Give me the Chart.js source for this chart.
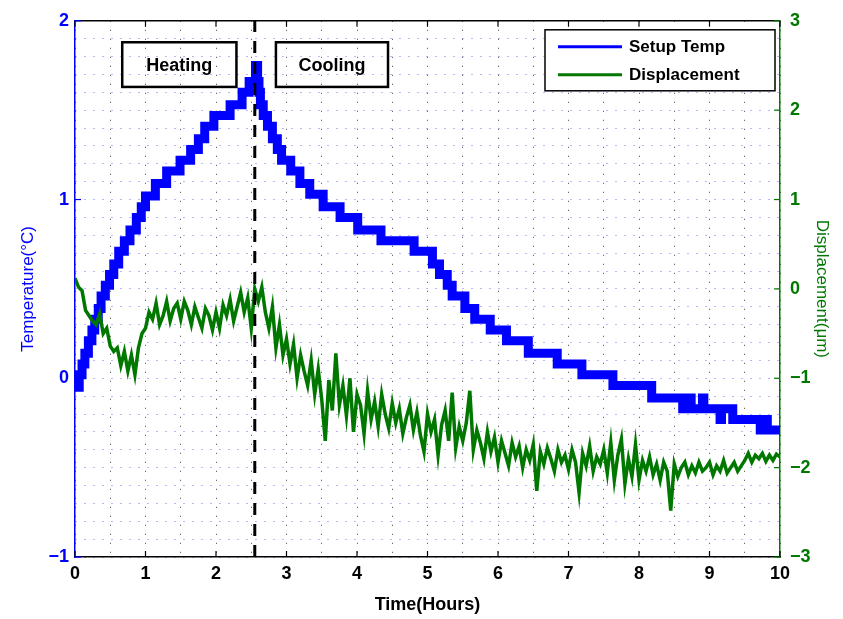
<!DOCTYPE html>
<html>
<head>
<meta charset="utf-8">
<script src="https://cdn.jsdelivr.net/npm/chart.js@4.4.1/dist/chart.umd.min.js"></script>
<style>
    html, body { margin: 0; padding: 0; background: #fff; }
    #wrap { width: 843px; height: 619px; }
</style>
</head>
<body>
<div id="wrap"><canvas id="chart" width="843" height="619"></canvas></div>
<script>
// Setup temperature: stepped readings (hours, °C)
const tempTimes = [0, 0.06, 0.10, 0.14, 0.19, 0.24, 0.28, 0.33, 0.37, 0.43,
    0.49, 0.55, 0.62, 0.70, 0.78, 0.87, 0.94, 1.00, 1.14, 1.30,
    1.49, 1.64, 1.75, 1.84, 1.97, 2.20, 2.37, 2.47, 2.56, 2.59,
    2.61, 2.63, 2.67, 2.73, 2.80, 2.87, 2.93, 3.06, 3.19, 3.33,
    3.52, 3.76, 4.01, 4.34, 4.81, 5.07, 5.17, 5.28, 5.35, 5.53,
    5.67, 5.89, 6.12, 6.43, 6.84, 7.19, 7.63, 8.18, 8.62, 8.72,
    8.74, 8.90, 8.92, 9.15, 9.17, 9.33, 9.72, 9.80, 9.82, 10.0];
const tempLevels = [-0.05, 0.02, 0.08, 0.14, 0.21, 0.27, 0.33, 0.39, 0.46, 0.52,
    0.58, 0.64, 0.71, 0.77, 0.83, 0.90, 0.96, 1.02, 1.09, 1.16,
    1.22, 1.28, 1.34, 1.41, 1.47, 1.53, 1.60, 1.66, 1.75, 1.66,
    1.60, 1.53, 1.47, 1.41, 1.34, 1.28, 1.22, 1.16, 1.09, 1.03,
    0.96, 0.90, 0.83, 0.77, 0.71, 0.64, 0.58, 0.52, 0.46, 0.39,
    0.33, 0.27, 0.21, 0.14, 0.08, 0.02, -0.04, -0.11, -0.17, -0.11,
    -0.17, -0.11, -0.17, -0.23, -0.17, -0.23, -0.29, -0.23, -0.29, -0.29];

// Displacement (µm), one sample every 0.05 h from 0 to 10 h
const dispStep = 0.05;
const dispValues = [
    0.12, 0.02, -0.02, -0.24, -0.30, -0.36, -0.40, -0.28, -0.50, -0.44,
    -0.64, -0.70, -0.66, -0.86, -0.70, -0.92, -0.74, -0.96, -0.66, -0.50,
    -0.44, -0.26, -0.34, -0.16, -0.40, -0.30, -0.14, -0.36, -0.22, -0.16,
    -0.34, -0.14, -0.24, -0.40, -0.20, -0.32, -0.44, -0.22, -0.30, -0.46,
    -0.26, -0.44, -0.18, -0.30, -0.12, -0.36, -0.20, -0.04, -0.26, -0.10,
    -0.44, 0.00, -0.14, 0.02, -0.26, -0.44, -0.20, -0.66, -0.40, -0.74,
    -0.56, -0.84, -0.62, -1.00, -0.74, -0.92, -1.08, -0.80, -1.18, -0.90,
    -1.24, -1.70, -1.02, -1.36, -0.72, -1.30, -1.08, -1.42, -1.00, -1.60,
    -1.18, -1.30, -1.62, -1.14, -1.46, -1.26, -1.54, -1.18, -1.40, -1.56,
    -1.28, -1.50, -1.34, -1.62, -1.44, -1.30, -1.58, -1.38, -1.64, -1.82,
    -1.40, -1.60, -1.46, -1.86, -1.52, -1.36, -1.70, -1.16, -1.78, -1.54,
    -1.70, -1.50, -1.14, -1.80, -1.58, -1.72, -1.90, -1.60, -1.82, -1.66,
    -1.94, -1.70, -1.84, -1.98, -1.72, -1.88, -1.76, -2.00, -1.80, -1.92,
    -1.74, -2.26, -1.82, -1.96, -1.78, -1.90, -2.04, -1.80, -1.94, -1.86,
    -2.02, -1.80, -1.94, -2.28, -1.84, -1.98, -1.76, -2.04, -1.88, -1.96,
    -1.80, -2.06, -1.72, -2.14, -1.86, -1.68, -2.18, -1.90, -2.10, -1.74,
    -2.14, -1.92, -2.04, -1.88, -2.08, -1.96, -2.14, -1.94, -2.04, -2.48,
    -1.96, -2.10, -2.00, -1.94, -2.08, -1.98, -2.06, -1.94, -2.04, -2.00,
    -1.94, -2.08, -1.98, -2.04, -1.92, -2.06, -2.00, -1.94, -2.04, -1.98,
    -1.92, -1.84, -1.94, -1.86, -1.90, -1.84, -1.93, -1.86, -1.92, -1.85,
    -1.88];

const cutTime = 2.55;   // heating / cooling boundary
const seriesNames = ['Setup Temp', 'Displacement'];
const seriesColors = ['#0000ff', '#007800'];

// text boxes in data units (hours, °C)
const notes = [
    { text: 'Heating', x0: 0.67, x1: 2.29, y0: 1.63, y1: 1.88 },
    { text: 'Cooling', x0: 2.85, x1: 4.44, y0: 1.63, y1: 1.88 }
];

const FONT = "'Liberation Sans', Arial, sans-serif";
Chart.defaults.font.family = FONT;

const isWhole = v => Math.abs(v - Math.round(v)) < 1e-6;
const fmt = v => {
    const r = Math.round(v);
    return r < 0 ? '\u2212' + Math.abs(r) : String(r);
};

const extras = {
    id: 'extras',
    afterDatasetsDraw(chart) {
        const { ctx, chartArea: a, scales } = chart;
        const x = scales.x, yT = scales.yT, yD = scales.yD;
        ctx.save();

        // top frame
        ctx.strokeStyle = '#000';
        ctx.lineWidth = 1.5;
        ctx.beginPath();
        ctx.moveTo(a.left, a.top);
        ctx.lineTo(a.right, a.top);
        ctx.stroke();

        // tick marks
        ctx.lineWidth = 1.2;
        for (let h = 0; h <= 10; h++) {
            const px = x.getPixelForValue(h);
            ctx.beginPath();
            ctx.moveTo(px, a.bottom); ctx.lineTo(px, a.bottom - 6);
            ctx.moveTo(px, a.top); ctx.lineTo(px, a.top + 6);
            ctx.stroke();
        }
        ctx.strokeStyle = seriesColors[0];
        for (let t = -1; t <= 2; t++) {
            const py = yT.getPixelForValue(t);
            ctx.beginPath(); ctx.moveTo(a.left, py); ctx.lineTo(a.left + 6, py); ctx.stroke();
        }
        ctx.strokeStyle = seriesColors[1];
        for (let d = -3; d <= 3; d++) {
            const py = yD.getPixelForValue(d);
            ctx.beginPath(); ctx.moveTo(a.right, py); ctx.lineTo(a.right - 6, py); ctx.stroke();
        }

        // heating / cooling boxes
        ctx.font = 'bold 18px ' + FONT;
        ctx.textAlign = 'center';
        ctx.textBaseline = 'middle';
        notes.forEach(n => {
            const l = x.getPixelForValue(n.x0), r = x.getPixelForValue(n.x1);
            const t = yT.getPixelForValue(n.y1), b = yT.getPixelForValue(n.y0);
            ctx.strokeStyle = '#000';
            ctx.lineWidth = 2.5;
            ctx.strokeRect(l, t, r - l, b - t);
            ctx.fillStyle = '#000';
            ctx.fillText(n.text, (l + r) / 2, (t + b) / 2 + 1);
        });

        // legend
        const lw = 230, lh = 61;
        const lx = a.right - 5 - lw, ly = a.top + 9;
        ctx.fillStyle = '#fff';
        ctx.fillRect(lx, ly, lw, lh);
        ctx.strokeStyle = '#000';
        ctx.lineWidth = 1.5;
        ctx.strokeRect(lx, ly, lw, lh);
        ctx.font = 'bold 17px ' + FONT;
        ctx.textAlign = 'left';
        seriesNames.forEach((name, i) => {
            const cy = ly + 17 + i * 28;
            ctx.strokeStyle = seriesColors[i];
            ctx.lineWidth = 3;
            ctx.beginPath();
            ctx.moveTo(lx + 13, cy); ctx.lineTo(lx + 77, cy);
            ctx.stroke();
            ctx.fillStyle = '#000';
            ctx.fillText(name, lx + 84, cy + 1);
        });
        ctx.restore();
    }
};

const tempData = tempTimes.map((t, i) => ({ x: t, y: tempLevels[i] }));
const dispData = dispValues.map((d, i) => ({ x: i * dispStep, y: d }));

new Chart(document.getElementById('chart'), {
    type: 'line',
    data: {
        datasets: [
            {
                label: seriesNames[0],
                data: tempData,
                yAxisID: 'yT',
                borderColor: seriesColors[0],
                borderWidth: 9,
                stepped: true,
                pointRadius: 0,
                order: 3
            },
            {
                label: seriesNames[1],
                data: dispData,
                yAxisID: 'yD',
                borderColor: seriesColors[1],
                borderWidth: 3.5,
                pointRadius: 0,
                tension: 0,
                order: 2
            },
            {
                label: 'cut',
                data: [{ x: cutTime, y: -1 }, { x: cutTime, y: 2 }],
                yAxisID: 'yT',
                borderColor: '#000',
                borderWidth: 3,
                borderDash: [12, 9],
                pointRadius: 0,
                order: 1
            }
        ]
    },
    options: {
        responsive: false,
        animation: false,
        layout: { padding: { top: 18, left: 0, right: 0, bottom: 0 } },
        plugins: { legend: { display: false }, tooltip: { enabled: false } },
        scales: {
            x: {
                type: 'linear',
                position: 'bottom',
                min: 0,
                max: 10,
                afterFit: s => { s.height = 62; },
                ticks: {
                    stepSize: 0.5,
                    autoSkip: false,
                    maxRotation: 0,
                    padding: 6,
                    color: '#000',
                    font: { size: 18, weight: 'bold' },
                    callback: v => isWhole(v) ? fmt(v) : ''
                },
                grid: { color: '#444', lineWidth: 1, drawTicks: false },
                border: { color: '#000', width: 1.5, dash: [1, 8] },
                title: {
                    display: true,
                    text: 'Time(Hours)',
                    color: '#000',
                    font: { size: 18, weight: 'bold' },
                    padding: { top: 0, bottom: 3 }
                }
            },
            yT: {
                type: 'linear',
                position: 'left',
                min: -1,
                max: 2,
                afterFit: s => { s.width = 75; },
                ticks: {
                    stepSize: 0.1,
                    autoSkip: false,
                    padding: 6,
                    color: seriesColors[0],
                    font: { size: 18, weight: 'bold' },
                    callback: v => isWhole(v) ? fmt(v) : ''
                },
                grid: { color: '#7373ff', lineWidth: 1, drawTicks: false },
                border: { color: seriesColors[0], width: 1.5, dash: [1, 8] },
                title: {
                    display: true,
                    text: 'Temperature(°C)',
                    color: seriesColors[0],
                    font: { size: 17 },
                    padding: { top: 18, bottom: 0 }
                }
            },
            yD: {
                type: 'linear',
                position: 'right',
                min: -3,
                max: 3,
                afterFit: s => { s.width = 63; },
                ticks: {
                    stepSize: 1,
                    padding: 10,
                    color: seriesColors[1],
                    font: { size: 18, weight: 'bold' },
                    callback: v => fmt(v)
                },
                grid: { display: false, drawTicks: false },
                border: { color: seriesColors[1], width: 1.5 },
                title: {
                    display: true,
                    text: 'Displacement(μm)',
                    color: seriesColors[1],
                    font: { size: 17 },
                    padding: { top: 11, bottom: 0 }
                }
            }
        }
    },
    plugins: [extras]
});
</script>
</body>
</html>
